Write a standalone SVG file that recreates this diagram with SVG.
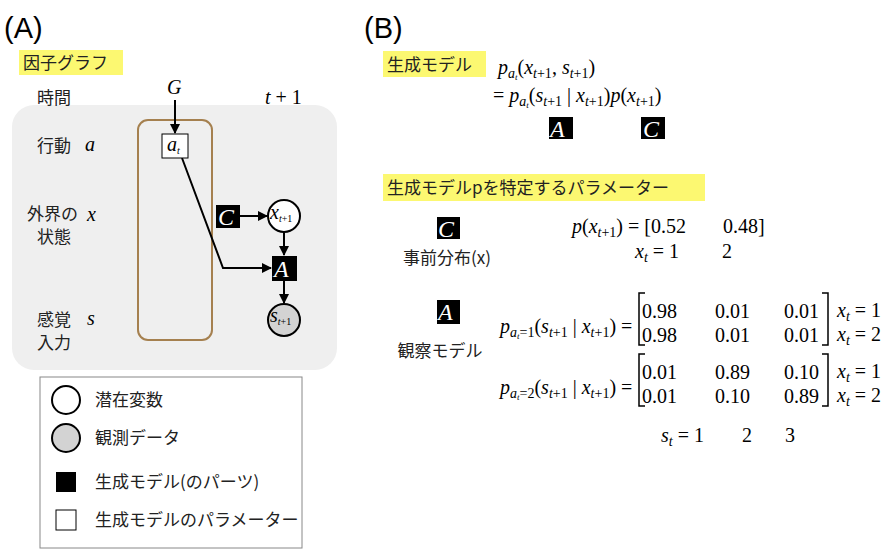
<svg xmlns="http://www.w3.org/2000/svg" width="889" height="551" viewBox="0 0 889 551">
<style>
.j{font-family:"Noto Sans CJK JP","Liberation Sans",sans-serif;font-size:17px;fill:#222}
.m{font-family:"Liberation Serif",serif;font-style:italic;font-size:20px}
.n{font-family:"Liberation Serif",serif;font-size:20px}
.sub{font-size:14px}
.hl{fill:#fcf871}
.blk{fill:#000}
.bl{font-family:"Liberation Serif",serif;font-style:italic;font-size:24px;fill:#fff}
.e{stroke:#000;stroke-width:2;fill:none}
</style>
<defs><marker id="ar" viewBox="0 0 10 10" refX="9" refY="5" markerWidth="5" markerHeight="5" orient="auto"><path d="M0,0L10,5L0,10z"/></marker></defs>
<text x="4" y="38" font-family="Liberation Sans,sans-serif" font-size="29">(A)</text>
<text x="364" y="38" font-family="Liberation Sans,sans-serif" font-size="29">(B)</text>
<rect class="hl" x="19" y="50" width="104" height="25"/>
<text class="j" x="23" y="69" font-size="18">因子グラフ</text>
<rect x="12" y="105" width="325" height="265" rx="22" fill="#efefef"/>
<rect x="138" y="120" width="74" height="220" rx="10" fill="none" stroke="#a5804f" stroke-width="2"/>
<text class="j" x="37" y="104">時間</text>
<text class="m" x="167" y="94" font-size="18">G</text>
<text class="n" x="265" y="104" font-size="18"><tspan font-style="italic">t</tspan> + 1</text>
<text class="j" x="37" y="152">行動</text><text class="m" x="85" y="151" font-size="18">a</text>
<text class="j" x="27" y="220">外界の</text><text class="j" x="37" y="243">状態</text><text class="m" x="87" y="221" font-size="18">x</text>
<text class="j" x="37" y="326">感覚</text><text class="j" x="37" y="349">入力</text><text class="m" x="87" y="325" font-size="18">s</text>
<g id="connectors">
<line class="e" x1="175" y1="100" x2="175" y2="133" marker-end="url(#ar)"/>
<polyline class="e" points="182,158 223,268 271,268" marker-end="url(#ar)"/>
<line class="e" x1="240" y1="216" x2="267" y2="216" marker-end="url(#ar)"/>
<line class="e" x1="284" y1="232" x2="284" y2="255" marker-end="url(#ar)"/>
<line class="e" x1="284" y1="281" x2="284" y2="303" marker-end="url(#ar)"/>
</g>
<g id="at"><rect x="162" y="134" width="26" height="24" fill="#fff" stroke="#000"/><text class="m" x="167" y="151" font-size="15">a<tspan font-size="10" dy="3">t</tspan></text></g>
<g id="C1"><rect x="216" y="205" width="24" height="23" class="blk"/><text class="bl" x="218" y="225">C</text></g>
<g id="x"><circle cx="284" cy="216" r="16" fill="#fff" stroke="#000" stroke-width="2"/><text class="m" x="270" y="219" font-size="13">x<tspan font-size="10" dy="3">t</tspan><tspan font-size="10" font-style="normal">+1</tspan></text></g>
<g id="A1"><rect x="272" y="256" width="25" height="25" class="blk"/><text class="bl" x="274" y="277">A</text></g>
<g id="s"><circle cx="284" cy="320" r="16" fill="#d3d3d3" stroke="#000" stroke-width="2"/><text class="m" x="270" y="322" font-size="13">s<tspan font-size="10" dy="3">t</tspan><tspan font-size="10" font-style="normal">+1</tspan></text></g>
<g id="legend">
<rect x="40" y="377" width="262" height="171" fill="#fff" stroke="#888"/>
<circle cx="66" cy="400" r="14" fill="#fff" stroke="#000" stroke-width="2"/>
<circle cx="66" cy="438" r="14" fill="#d3d3d3" stroke="#000" stroke-width="2"/>
<rect x="56" y="472" width="20" height="20" class="blk"/>
<rect x="56" y="510" width="20" height="20" fill="#fff" stroke="#000"/>
<text class="j" x="95" y="406">潜在変数</text>
<text class="j" x="95" y="444">観測データ</text>
<text class="j" x="95" y="488">生成モデル(のパーツ)</text>
<text class="j" x="95" y="526">生成モデルのパラメーター</text>
</g>
<rect class="hl" x="383" y="51" width="103" height="26"/>
<text class="j" x="387" y="71" font-size="18">生成モデル</text>
<text class="m" x="498" y="74">p<tspan class="sub" dy="4">a</tspan><tspan font-size="9" dy="2">t</tspan><tspan dy="-6" font-style="normal">(</tspan>x<tspan class="sub" dy="4">t</tspan><tspan class="sub" font-style="normal">+1</tspan><tspan dy="-4" font-style="normal">, </tspan>s<tspan class="sub" dy="4">t</tspan><tspan class="sub" font-style="normal">+1</tspan><tspan dy="-4" font-style="normal">)</tspan></text>
<text class="m" x="493" y="102"><tspan font-style="normal">= </tspan>p<tspan class="sub" dy="4">a</tspan><tspan font-size="9" dy="2">t</tspan><tspan dy="-6" font-style="normal">(</tspan>s<tspan class="sub" dy="4">t</tspan><tspan class="sub" font-style="normal">+1</tspan><tspan dy="-4" font-style="normal"> | </tspan>x<tspan class="sub" dy="4">t</tspan><tspan class="sub" font-style="normal">+1</tspan><tspan dy="-4" font-style="normal">)</tspan>p<tspan font-style="normal">(</tspan>x<tspan class="sub" dy="4">t</tspan><tspan class="sub" font-style="normal">+1</tspan><tspan dy="-4" font-style="normal">)</tspan></text>
<g id="A2"><rect x="549" y="117" width="24" height="22" class="blk"/><text class="bl" x="550" y="137">A</text></g>
<g id="C2"><rect x="641" y="117" width="24" height="22" class="blk"/><text class="bl" x="643" y="137">C</text></g>
<rect class="hl" x="383" y="174" width="322" height="27"/>
<text class="j" x="387" y="194" font-size="18">生成モデルpを特定するパラメーター</text>
<g id="C3"><rect x="437" y="217" width="23" height="22" class="blk"/><text class="bl" x="438" y="237">C</text></g>
<text class="j" x="447" y="264" text-anchor="middle">事前分布(x)</text>
<text class="m" x="572" y="233">p<tspan font-style="normal">(</tspan>x<tspan class="sub" dy="4">t</tspan><tspan class="sub" font-style="normal">+1</tspan><tspan dy="-4" font-style="normal">) = [0.52</tspan></text>
<text class="n" x="723" y="233">0.48]</text>
<text class="m" x="635" y="258">x<tspan class="sub" dy="4">t</tspan><tspan dy="-4" font-style="normal"> = 1</tspan></text>
<text class="n" x="722" y="258">2</text>
<g id="A3"><rect x="437" y="300" width="23" height="24" class="blk"/><text class="bl" x="438" y="320">A</text></g>
<text class="j" x="440" y="357" text-anchor="middle">観察モデル</text>
<text class="m" x="500" y="333">p<tspan class="sub" dy="4">a</tspan><tspan font-size="9" dy="2">t</tspan><tspan class="sub" dy="-2" font-style="normal">=1</tspan><tspan dy="-4" font-style="normal">(</tspan>s<tspan class="sub" dy="4">t</tspan><tspan class="sub" font-style="normal">+1</tspan><tspan dy="-4" font-style="normal"> | </tspan>x<tspan class="sub" dy="4">t</tspan><tspan class="sub" font-style="normal">+1</tspan><tspan dy="-4" font-style="normal">) =</tspan></text>
<text class="m" x="500" y="394">p<tspan class="sub" dy="4">a</tspan><tspan font-size="9" dy="2">t</tspan><tspan class="sub" dy="-2" font-style="normal">=2</tspan><tspan dy="-4" font-style="normal">(</tspan>s<tspan class="sub" dy="4">t</tspan><tspan class="sub" font-style="normal">+1</tspan><tspan dy="-4" font-style="normal"> | </tspan>x<tspan class="sub" dy="4">t</tspan><tspan class="sub" font-style="normal">+1</tspan><tspan dy="-4" font-style="normal">) =</tspan></text>
<path d="M645,293H639V345H645M822,293H828V345H822M645,354H639V406H645M822,354H828V406H822" fill="none" stroke="#000" stroke-width="1.5"/>
<g class="n">
<text x="642" y="318">0.98</text><text x="715" y="318">0.01</text><text x="784" y="318">0.01</text>
<text x="642" y="342">0.98</text><text x="715" y="342">0.01</text><text x="784" y="342">0.01</text>
<text x="642" y="379">0.01</text><text x="715" y="379">0.89</text><text x="784" y="379">0.10</text>
<text x="642" y="403">0.01</text><text x="715" y="403">0.10</text><text x="784" y="403">0.89</text>
</g>
<text class="m" x="837" y="317">x<tspan class="sub" dy="4">t</tspan><tspan dy="-4" font-style="normal"> = 1</tspan></text>
<text class="m" x="837" y="341">x<tspan class="sub" dy="4">t</tspan><tspan dy="-4" font-style="normal"> = 2</tspan></text>
<text class="m" x="837" y="378">x<tspan class="sub" dy="4">t</tspan><tspan dy="-4" font-style="normal"> = 1</tspan></text>
<text class="m" x="837" y="402">x<tspan class="sub" dy="4">t</tspan><tspan dy="-4" font-style="normal"> = 2</tspan></text>
<text class="m" x="661" y="442">s<tspan class="sub" dy="4">t</tspan><tspan dy="-4" font-style="normal"> = 1</tspan></text>
<text class="n" x="742" y="442">2</text><text class="n" x="785" y="442">3</text>
</svg>
